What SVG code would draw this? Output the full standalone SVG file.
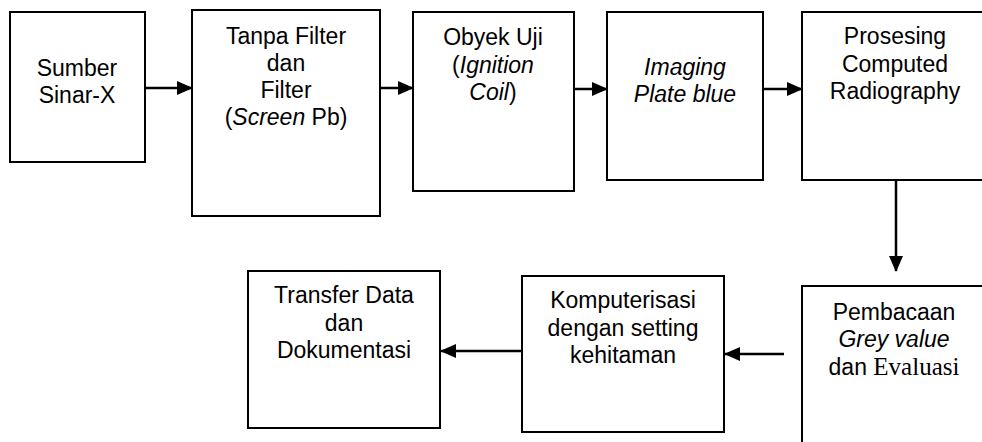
<svg xmlns="http://www.w3.org/2000/svg" width="982" height="442" viewBox="0 0 982 442">
<style>
.box{fill:#fff;stroke:#000;stroke-width:2}
.t{font-family:"Liberation Sans",Arial,sans-serif;font-size:23px;text-anchor:middle;fill:#000}
.i{font-style:italic}
.s{font-family:"Liberation Serif","Times New Roman",serif}
.c{stroke:#000;stroke-width:2.5;fill:none}
</style>
<defs>
<marker id="ah" markerWidth="16" markerHeight="14" refX="15" refY="7" orient="auto" markerUnits="userSpaceOnUse">
<path d="M0,0 L16,7 L0,14 Z" fill="#000"/>
</marker>
</defs>
<rect width="982" height="442" fill="#fff"/>
<g id="connectors">
<line class="c" x1="145" y1="88" x2="192" y2="88" marker-end="url(#ah)"/>
<line class="c" x1="380" y1="88" x2="413" y2="88" marker-end="url(#ah)"/>
<line class="c" x1="574" y1="89" x2="607" y2="89" marker-end="url(#ah)"/>
<line class="c" x1="759" y1="89" x2="802" y2="89" marker-end="url(#ah)"/>
<line class="c" x1="896" y1="175" x2="896" y2="271" marker-end="url(#ah)"/>
<line class="c" x1="784" y1="354" x2="725" y2="354" marker-end="url(#ah)"/>
<line class="c" x1="522" y1="351" x2="441" y2="351" marker-end="url(#ah)"/>
</g>
<g id="n1"><rect class="box" x="10" y="12" width="135" height="150"/>
<text class="t" x="77" y="76">Sumber</text><text class="t" x="77" y="103">Sinar-X</text></g>
<g id="n2"><rect class="box" x="192" y="10" width="188" height="206"/>
<text class="t" x="286" y="44">Tanpa Filter</text><text class="t" x="286" y="71">dan</text><text class="t" x="286" y="98">Filter</text><text class="t" x="286" y="125">(<tspan class="i">Screen</tspan> Pb)</text></g>
<g id="n3"><rect class="box" x="413" y="12" width="161" height="179"/>
<text class="t" x="493" y="45">Obyek Uji</text><text class="t" x="493" y="73">(<tspan class="i">Ignition</tspan></text><text class="t" x="493" y="100"><tspan class="i">Coil</tspan>)</text></g>
<g id="n4"><rect class="box" x="607" y="12" width="156" height="168"/>
<text class="t i" x="685" y="75">Imaging</text><text class="t i" x="685" y="102">Plate blue</text></g>
<g id="n5"><rect class="box" x="802" y="12" width="190" height="168"/>
<text class="t" x="895" y="44">Prosesing</text><text class="t" x="895" y="72">Computed</text><text class="t" x="895" y="99">Radiography</text></g>
<g id="n6"><rect class="box" x="802" y="286" width="190" height="170"/>
<text class="t" x="894" y="320">Pembacaan</text><text class="t i" x="894" y="347">Grey value</text><text class="t" x="894" y="375">dan <tspan class="s" font-size="25">Evaluasi</tspan></text></g>
<g id="n7"><rect class="box" x="522" y="276" width="202" height="156"/>
<text class="t" x="623" y="308">Komputerisasi</text><text class="t" x="623" y="336">dengan setting</text><text class="t" x="623" y="363">kehitaman</text></g>
<g id="n8"><rect class="box" x="248" y="271" width="192" height="157"/>
<text class="t" x="344" y="303">Transfer Data</text><text class="t" x="344" y="331">dan</text><text class="t" x="344" y="358">Dokumentasi</text></g>
</svg>
